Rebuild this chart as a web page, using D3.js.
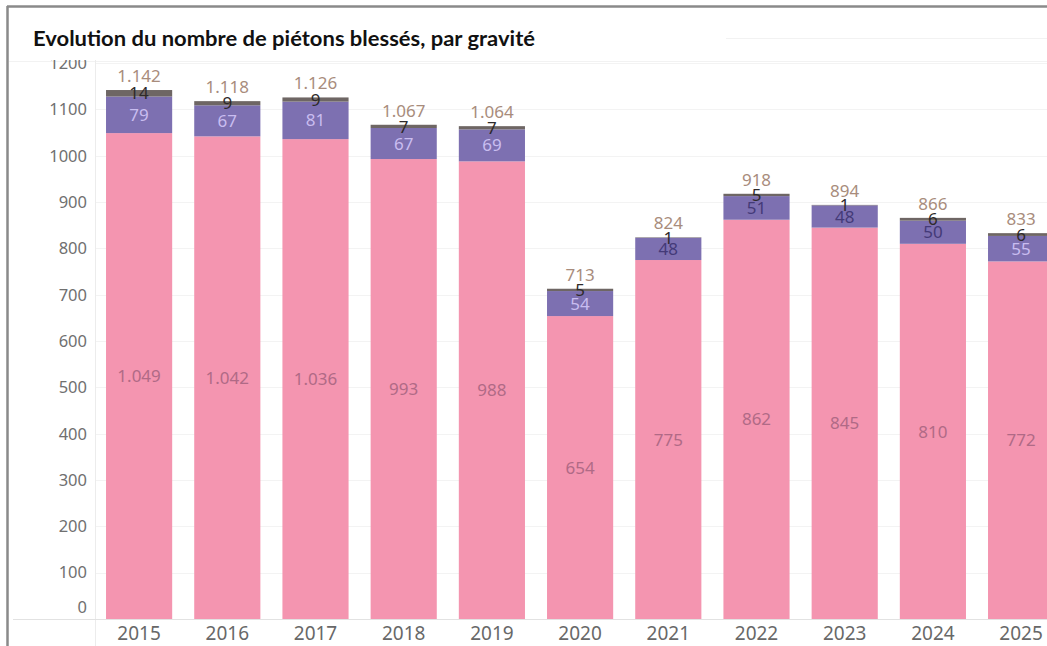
<!DOCTYPE html>
<html>
<head>
<meta charset="utf-8">
<script src="https://cdn.jsdelivr.net/npm/d3@7"></script>
<style>
  body { margin: 0; background: #fff; }
  svg text { font-family: "Noto Sans", "Open Sans", sans-serif; }
  svg text.title { font-family: "Lato", "Open Sans", sans-serif; font-weight: 700; }
</style>
</head>
<body>
<svg id="chart" width="1047" height="646"></svg>
<script>
// data
const years = ['2015', '2016', '2017', '2018', '2019', '2020', '2021', '2022', '2023', '2024', '2025'];
const blessesLegers = [1049, 1042, 1036, 993, 988, 654, 775, 862, 845, 810, 772];
const blessesGraves = [79, 67, 81, 67, 69, 54, 48, 51, 48, 50, 55];
const tues = [14, 9, 9, 7, 7, 5, 1, 5, 1, 6, 6];
// purple labels drawn dark in the source
const darkGraveLabel = ['2021', '2022', '2023', '2024'];
const yTicks = [0, 100, 200, 300, 400, 500, 600, 700, 800, 900, 1000, 1100, 1200];

const W = 1047, H = 646;
const dim = {top: 62, left: 95, bottom: 619};

const svg = d3.select('#chart');

const fr = d3.formatLocale({decimal: ',', thousands: '.', grouping: [3], currency: ['', ' €']});
const fmt = fr.format(',d');

const rows = years.map((y, i) => ({
  year: y,
  legers: blessesLegers[i],
  graves: blessesGraves[i],
  tues: tues[i],
  total: blessesLegers[i] + blessesGraves[i] + tues[i]
}));

const keys = ['legers', 'graves', 'tues'];
const colour = d3.scaleOrdinal()
  .domain(keys)
  .range(['#f495b0', '#7d70b1', '#6e6664']);
const labelColour = {legers: '#b06a86', tues: '#2e2a2a'};

const x = d3.scaleBand()
  .domain(years)
  .range([dim.left, dim.left + years.length * 88.2])
  .paddingInner(0.25)
  .paddingOuter(0.125);

const y = d3.scaleLinear()
  .domain([0, 1200])
  .range([dim.bottom, dim.bottom - 1200 * 0.4632]);

// frame
svg.append('line')
  .attr('x1', 7).attr('x2', W).attr('y1', 6.5).attr('y2', 6.5)
  .attr('stroke', '#8a8a8a').attr('stroke-width', 2.5);
svg.append('line')
  .attr('x1', 7.5).attr('x2', 7.5).attr('y1', 6).attr('y2', H)
  .attr('stroke', '#8a8a8a').attr('stroke-width', 2.5);

// header separators
svg.append('line')
  .attr('x1', 726).attr('x2', W).attr('y1', 38.5).attr('y2', 38.5)
  .attr('stroke', '#f2f2f2');
svg.append('line')
  .attr('x1', 9).attr('x2', W).attr('y1', 61.5).attr('y2', 61.5)
  .attr('stroke', '#f2f2f2');

svg.append('text')
  .attr('class', 'title')
  .attr('x', 33).attr('y', 46)
  .attr('font-size', '20px')
  .attr('textLength', 502)
  .attr('lengthAdjust', 'spacingAndGlyphs')
  .attr('fill', '#111')
  .text('Evolution du nombre de piétons blessés, par gravité');

// clip for plot area
svg.append('defs').append('clipPath').attr('id', 'plotClip')
  .append('rect').attr('x', 9).attr('y', 60).attr('width', W - 9).attr('height', H - 60);

const plot = svg.append('g').attr('clip-path', 'url(#plotClip)');

// gridlines
plot.append('g')
  .selectAll('line')
  .data(yTicks.slice(1))
  .join('line')
    .attr('x1', dim.left).attr('x2', W)
    .attr('y1', d => Math.round(y(d)) + 0.5).attr('y2', d => Math.round(y(d)) + 0.5)
    .attr('stroke', '#f3f3f3');

// axis dividers
plot.append('line')
  .attr('x1', dim.left + 0.5).attr('x2', dim.left + 0.5).attr('y1', 60).attr('y2', H)
  .attr('stroke', '#ececec');
plot.append('line')
  .attr('x1', 13).attr('x2', W).attr('y1', dim.bottom + 0.5).attr('y2', dim.bottom + 0.5)
  .attr('stroke', '#e2e2e2');

// y axis labels
const yAxis = d3.axisLeft(y).tickValues(yTicks).tickFormat(d3.format('d')).tickSize(0).tickPadding(0);
const yAxisG = plot.append('g')
  .attr('transform', `translate(${dim.left - 8},0)`)
  .call(yAxis);
yAxisG.select('.domain').remove();
yAxisG.selectAll('text')
  .attr('font-size', '16.5px')
  .attr('fill', '#707070')
  .attr('dy', d => d === 0 ? '-0.38em' : '0.32em');

// x axis labels
const xAxis = d3.axisBottom(x).tickSize(0).tickPadding(0);
const xAxisG = plot.append('g')
  .attr('transform', `translate(0,${dim.bottom})`)
  .call(xAxis);
xAxisG.select('.domain').remove();
xAxisG.selectAll('text')
  .attr('font-size', '19px')
  .attr('fill', '#686868')
  .attr('y', 8)
  .attr('dy', '0.71em');

// stacked bars
const series = d3.stack().keys(keys)(rows);

const layers = plot.append('g')
  .selectAll('g')
  .data(series)
  .join('g')
    .attr('fill', d => colour(d.key));

layers.selectAll('rect')
  .data(d => d)
  .join('rect')
    .attr('x', d => x(d.data.year))
    .attr('width', x.bandwidth())
    .attr('y', d => y(d[1]))
    .attr('height', d => y(d[0]) - y(d[1]));

// segment labels
const segLabels = plot.append('g').attr('text-anchor', 'middle');
series.forEach(s => {
  segLabels.selectAll(null)
    .data(s)
    .join('text')
      .attr('x', d => x(d.data.year) + x.bandwidth() / 2)
      .attr('y', d => y((d[0] + d[1]) / 2))
      .attr('dy', '0.36em')
      .attr('font-size', '17px')
      .attr('fill', d => {
        if (s.key === 'graves') return darkGraveLabel.includes(d.data.year) ? '#443a78' : '#c9bdf0';
        return labelColour[s.key];
      })
      .text(d => fmt(d.data[s.key]));
});

// totals
plot.append('g')
  .attr('text-anchor', 'middle')
  .selectAll('text')
  .data(rows)
  .join('text')
    .attr('x', d => x(d.year) + x.bandwidth() / 2)
    .attr('y', d => y(d.total) - 8)
    .attr('font-size', '17px')
    .attr('fill', '#a88c7c')
    .text(d => fmt(d.total));
</script>
</body>
</html>
